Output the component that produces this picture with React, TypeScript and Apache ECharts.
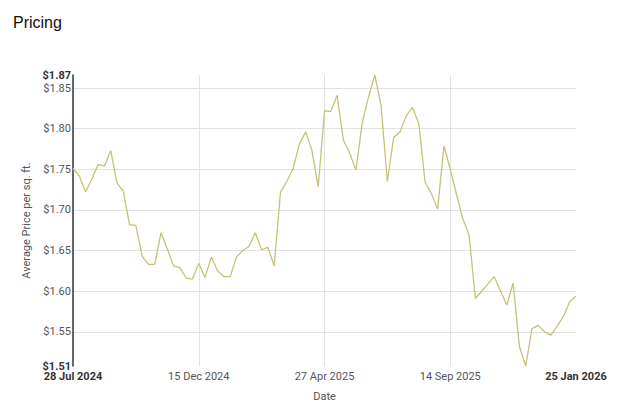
import React, { useEffect, useRef } from "react";
import * as echarts from "echarts";

const title = "Pricing";
const yAxisName = "Average Price per sq. ft.";
const xAxisName = "Date";
const tickLabels = ["28 Jul 2024", "15 Dec 2024", "27 Apr 2025", "14 Sep 2025", "25 Jan 2026"];
const tickEvery = 20;
const prices = [
  1.751, 1.742, 1.722, 1.738, 1.756, 1.754, 1.773, 1.733, 1.723, 1.682,
  1.681, 1.643, 1.633, 1.633, 1.672, 1.652, 1.631, 1.629, 1.616, 1.615,
  1.634, 1.617, 1.642, 1.625, 1.618, 1.618, 1.642, 1.65, 1.655, 1.672,
  1.651, 1.654, 1.631, 1.722, 1.735, 1.751, 1.781, 1.796, 1.773, 1.728,
  1.822, 1.821, 1.841, 1.786, 1.77, 1.749, 1.807, 1.839, 1.866, 1.828,
  1.735, 1.789, 1.796, 1.816, 1.826, 1.806, 1.734, 1.72, 1.701, 1.779,
  1.75, 1.719, 1.689, 1.669, 1.591, 1.6, 1.609, 1.618, 1.6, 1.583,
  1.61, 1.532, 1.508, 1.554, 1.558, 1.55, 1.546, 1.557, 1.569, 1.587,
  1.594,
];

export default function App() {
  const ref = useRef<HTMLDivElement>(null);
  useEffect(() => {
    if (!ref.current) return;
    const chart = echarts.init(ref.current, null, { renderer: "svg" });
    const categories = prices.map((_, i) => String(i));
    const pMin = Math.min(...prices);
    const pMax = Math.max(...prices);
    const font = "Roboto";
    chart.setOption({
      animation: false,
      title: {
        text: title,
        left: 13,
        top: 14,
        padding: 0,
        textStyle: { fontFamily: "Liberation Sans", fontSize: 16, fontWeight: "normal", color: "#111" },
      },
      grid: { left: 73, right: 48, top: 75, bottom: 50, containLabel: false },
      xAxis: {
        type: "category",
        data: categories,
        boundaryGap: false,
        name: xAxisName,
        nameLocation: "middle",
        nameGap: 25,
        nameTextStyle: { fontFamily: font, fontSize: 11, color: "#555" },
        axisLine: { show: false },
        axisTick: { show: false },
        axisLabel: {
          interval: tickEvery - 1,
          margin: 5,
          fontFamily: font,
          fontSize: 11,
          color: "#555",
          formatter: (_v: string, i: number) => {
            const k = i / tickEvery;
            const t = tickLabels[k] ?? "";
            return k === 0 || k === tickLabels.length - 1 ? `{b|${t}}` : t;
          },
          rich: { b: { fontFamily: font, fontSize: 11, fontWeight: "bold", color: "#333" } },
        },
        splitLine: {
          show: true,
          interval: tickEvery - 1,
          showMinLine: false,
          showMaxLine: false,
          lineStyle: { color: "#e2e2e2", width: 1 },
        },
      },
      yAxis: {
        type: "value",
        min: "dataMin",
        max: "dataMax",
        splitNumber: 8,
        name: yAxisName,
        nameLocation: "middle",
        nameGap: 41,
        nameRotate: 90,
        nameTextStyle: { fontFamily: font, fontSize: 11, color: "#555" },
        axisLine: { show: true, lineStyle: { color: "#333", width: 1.5 } },
        axisTick: { show: false },
        axisLabel: {
          margin: 2,
          fontFamily: font,
          fontSize: 11,
          color: "#555",
          showMinLabel: true,
          showMaxLabel: true,
          formatter: (v: number) => {
            const t = "$" + v.toFixed(2);
            return v === pMin || v === pMax ? `{b|${t}}` : t;
          },
          rich: { b: { fontFamily: font, fontSize: 11, fontWeight: "bold", color: "#333" } },
        },
        splitLine: {
          show: true,
          showMinLine: false,
          showMaxLine: false,
          lineStyle: { color: "#e2e2e2", width: 1 },
        },
      },
      series: [
        {
          type: "line",
          data: prices,
          symbol: "none",
          lineStyle: { color: "#c6c27a", width: 1.3 },
        },
      ],
    });
    return () => chart.dispose();
  }, []);
  return (
    <div
      ref={ref}
      style={{ position: "fixed", left: 0, top: 0, width: 624, height: 416, background: "#fff" }}
    />
  );
}
